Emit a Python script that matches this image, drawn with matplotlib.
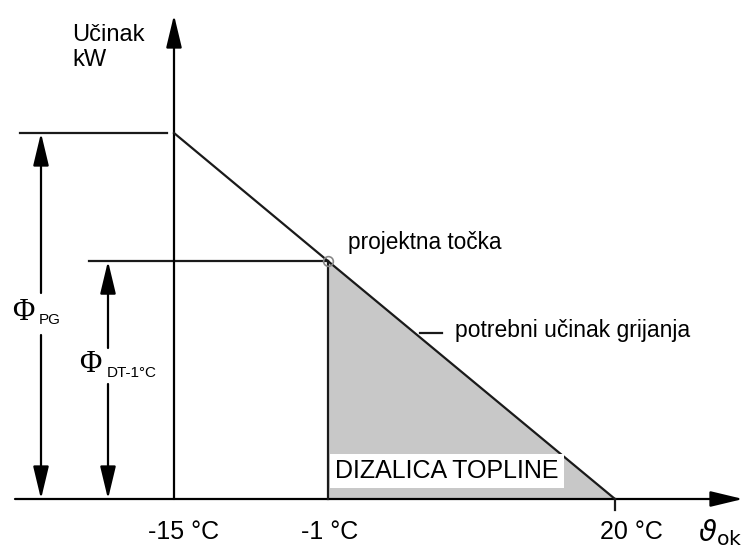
import numpy as np
import matplotlib.pyplot as plt

plt.rcParams['font.family'] = ['Liberation Sans', 'DejaVu Sans']

# podaci (shematski dijagram)
temps = [-15, -1, 20]            # °C: projektna vanjska, točka DT, granica grijanja
phi = [100, 65, 0]               # učinak, % od Φ_PG
tick_labels = ['-15 °C', '-1 °C', '20 °C']

# os x je shematska: razmak oznaka nije proporcionalan temperaturi
knot_px = [174, 328, 615]
PX_PER_UNIT = 3.66
Y0_PX = 499      # položaj osi x (px od vrha)
W, H = 744, 548


def _slopes():
    lo = (knot_px[1] - knot_px[0]) / (temps[1] - temps[0])
    hi = (knot_px[2] - knot_px[1]) / (temps[2] - temps[1])
    return lo, hi


def fwd(t):
    t = np.asarray(t, dtype=float)
    lo, hi = _slopes()
    p = np.interp(t, temps, knot_px)
    p = np.where(t < temps[0], knot_px[0] + (t - temps[0]) * lo, p)
    p = np.where(t > temps[-1], knot_px[-1] + (t - temps[-1]) * hi, p)
    return p


def inv(p):
    p = np.asarray(p, dtype=float)
    lo, hi = _slopes()
    t = np.interp(p, knot_px, temps)
    t = np.where(p < knot_px[0], temps[0] + (p - knot_px[0]) / lo, t)
    t = np.where(p > knot_px[-1], temps[-1] + (p - knot_px[-1]) / hi, t)
    return float(t)


def ypx(py):
    # px od vrha -> jedinice osi y
    return (Y0_PX - py) / PX_PER_UNIT


def fx(px):
    return px / W


def fy(py):
    return 1 - py / H


fig = plt.figure(figsize=(W / 100, H / 100), dpi=100)
ax = fig.add_axes([0, 0, 1, 1])
ax.set_xscale('function', functions=(fwd, np.vectorize(inv)))
ax.set_xlim(inv(0), inv(W))
ax.set_ylim(ypx(H), ypx(0))
ax.axis('off')

lw = 1.6
ink = '#1a1a1a'
arrow = dict(arrowstyle='-|>,head_length=1.0,head_width=0.24', color='black',
             lw=lw, mutation_scale=20, shrinkA=0, shrinkB=0)

# osi
ax.annotate('', xy=(inv(743), 0), xytext=(inv(15), 0), arrowprops=arrow)
ax.annotate('', xy=(temps[0], ypx(15)), xytext=(temps[0], 0), arrowprops=arrow)

# površina koju pokriva dizalica topline
ax.fill_between(temps[1:], phi[1:], 0, color='#c8c8c8', lw=0, zorder=1)

# potrebni učinak grijanja
ax.plot(temps, phi, color=ink, lw=lw, zorder=3)
ax.plot([temps[1], temps[1]], [0, phi[1]], color=ink, lw=lw, zorder=3)
ax.plot([temps[2], temps[2]], [0, ypx(510)], color=ink, lw=lw, zorder=3)
ax.plot(temps[1], phi[1], 'o', ms=7, mfc='none', mec='#888888', mew=1.2, zorder=4)

# kotne linije
ax.plot([inv(20), inv(167)], [phi[0], phi[0]], color=ink, lw=lw)
ax.plot([inv(89), temps[1]], [phi[1], phi[1]], color=ink, lw=lw)

# strelice Φ_PG
yt = ax.get_yaxis_transform()
ax.annotate('', xy=(fx(41), phi[0]), xytext=(fx(41), ypx(293)),
            xycoords=yt, textcoords=yt, arrowprops=arrow)
ax.annotate('', xy=(fx(41), 0), xytext=(fx(41), ypx(335)),
            xycoords=yt, textcoords=yt, arrowprops=arrow)
# strelice Φ_DT-1°C
ax.annotate('', xy=(fx(108), phi[1]), xytext=(fx(108), ypx(348)),
            xycoords=yt, textcoords=yt, arrowprops=arrow)
ax.annotate('', xy=(fx(108), 0), xytext=(fx(108), ypx(384)),
            xycoords=yt, textcoords=yt, arrowprops=arrow)

tr = ax.transAxes
ax.text(fx(12), fy(312), 'Φ', fontsize=22, family='Liberation Serif',
        ha='left', va='center', transform=tr)
ax.text(fx(39), fy(320), 'PG', fontsize=11, ha='left', va='center', transform=tr)
ax.text(fx(79), fy(364), 'Φ', fontsize=22, family='Liberation Serif',
        ha='left', va='center', transform=tr)
ax.text(fx(107), fy(373), 'DT-1°C', fontsize=11, ha='left', va='center', transform=tr)

# natpisi
ax.text(fx(72), fy(24), 'Učinak\nkW', fontsize=17, ha='left', va='top',
        linespacing=1.15, transform=tr)
ax.text(fx(348), fy(242), 'projektna točka', fontsize=16.3, ha='left', va='center',
        transform=tr)
ax.plot([fx(420), fx(442)], [fy(333), fy(333)], color=ink, lw=lw, transform=tr)
ax.text(fx(455), fy(330), 'potrebni učinak grijanja', fontsize=16.5, ha='left',
        va='center', transform=tr)
ax.text(fx(447), fy(471), 'DIZALICA TOPLINE', fontsize=18, ha='center', va='center',
        transform=tr, zorder=5,
        bbox=dict(boxstyle='square,pad=0.2', fc='white', ec='none'))

# oznake temperatura
offsets = [10, 2, 16]
for t, lab, dx in zip(temps, tick_labels, offsets):
    ax.annotate(lab, xy=(t, 0), xytext=(dx, -(532 - Y0_PX)), textcoords='offset pixels',
                fontsize=18, ha='center', va='center')

ax.text(fx(720), fy(533), r'$\vartheta_{\mathrm{ok}}$', fontsize=21, ha='center',
        va='center', transform=tr)

fig.savefig('out.png', dpi=100)
